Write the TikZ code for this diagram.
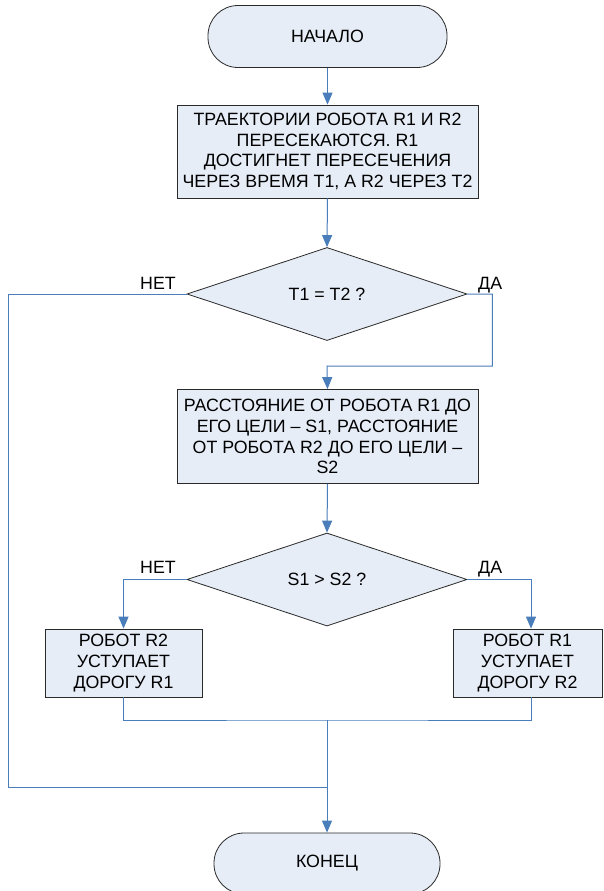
\documentclass[tikz,border=0pt]{standalone}
\usepackage{fontspec}
\setmainfont{Liberation Sans}
\usetikzlibrary{arrows.meta,shapes.geometric}
\definecolor{flowline}{HTML}{4A7EBB}
\definecolor{shapefill}{HTML}{E6EDF7}
\definecolor{shapeedge}{HTML}{2A2A2A}
\begin{document}
\begin{tikzpicture}[x=1pt,y=-1pt,
  txt/.style={font=\fontsize{17.8}{20.8}\selectfont, align=center, inner sep=0pt},
  terminal/.style={txt, draw=shapeedge, fill=shapefill, line width=0.8pt, rounded corners=30pt},
  procbox/.style={txt, draw=shapeedge, fill=shapefill, line width=0.8pt},
  decision/.style={txt, diamond, draw=shapeedge, fill=shapefill, line width=0.8pt,
    minimum width=280pt, minimum height=93pt, aspect=3},
  link/.style={draw=flowline, line width=1pt},
  flow/.style={link, -{Triangle[width=10pt,length=12pt]}},
  lbl/.style={font=\fontsize{17.8}{20.8}\selectfont, inner sep=0pt}
]
\useasboundingbox (0,0) rectangle (603,891);
\fill[white] (0,0) rectangle (603,891);

% blocks
\node[terminal, minimum width=239pt, minimum height=62pt] (start) at (327.5,36.5) {НАЧАЛО};
\node[procbox, minimum width=301pt, minimum height=93pt] (b1) at (327.5,151.5)
  {ТРАЕКТОРИИ РОБОТА R1 И R2\\ПЕРЕСЕКАЮТСЯ. R1\\ДОСТИГНЕТ ПЕРЕСЕЧЕНИЯ\\ЧЕРЕЗ ВРЕМЯ Т1, А R2 ЧЕРЕЗ Т2};
\node[decision] (d1) at (327,294) {Т1 = Т2 ?};
\node[procbox, minimum width=301pt, minimum height=94pt] (b2) at (327.5,436.5)
  {РАССТОЯНИЕ ОТ РОБОТА R1 ДО\\ЕГО ЦЕЛИ – S1, РАССТОЯНИЕ\\ОТ РОБОТА R2 ДО ЕГО ЦЕЛИ –\\S2};
\node[decision] (d2) at (327,579.5) {S1 > S2 ?};
\node[procbox, minimum width=157pt, minimum height=68pt] (b3) at (123.5,663)
  {РОБОТ R2\\УСТУПАЕТ\\ДОРОГУ R1};
\node[procbox, minimum width=149pt, minimum height=68pt] (b4) at (527.5,663)
  {РОБОТ R1\\УСТУПАЕТ\\ДОРОГУ R2};
\node[terminal, minimum width=226pt, minimum height=61pt] (end) at (327,863.5) {КОНЕЦ};

% junction points
\coordinate (jA) at (327,720);
\coordinate (jB) at (327,787);
\coordinate (yesturn) at (327,366);
\coordinate (b4in) at ([xshift=3.5pt]b4.north);
\coordinate (b4out) at ([xshift=3.5pt]b4.south);

% connectors
\draw[flow] (start.south) -- (b1.north);
\draw[flow] (b1.south) -- (d1.north);
\draw[flow] (d1.east) -- ++(25,0) |- (yesturn) -- (b2.north);
\draw[link] (d1.west) -- (8,294) |- (jB);
\draw[flow] (b2.south) -- (d2.north);
\draw[flow] (d2.west) -| (b3.north);
\draw[flow] (d2.east) -| (b4in);
\draw[link] (b3.south) |- (jA) -| (b4out);
\draw[flow] (jA) -- (end.north);

% branch labels
\node[lbl, anchor=base east] (no1) at (176,289) {НЕТ};
\node[lbl, anchor=base west] (yes1) at (478,289) {ДА};
\node[lbl, anchor=base east] (no2) at (176,573) {НЕТ};
\node[lbl, anchor=base west] (yes2) at (478,573) {ДА};
\end{tikzpicture}
\end{document}
